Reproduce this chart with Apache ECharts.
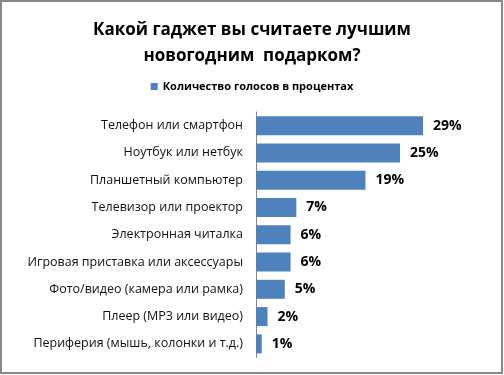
<!DOCTYPE html>
<html><head><meta charset="utf-8">
<script src="https://cdn.jsdelivr.net/npm/echarts@6/dist/echarts.min.js"></script>
<style>html,body{margin:0;padding:0;background:#fff}#c{width:504px;height:375px}</style>
</head><body><div id="c"></div>
<script>
var categories = ['Телефон или смартфон','Ноутбук или нетбук','Планшетный компьютер','Телевизор или проектор','Электронная читалка','Игровая приставка или аксессуары','Фото/видео (камера или рамка)','Плеер (МР3 или видео)','Периферия (мышь, колонки и т.д.)'];
var values = [29,25,19,7,6,6,5,2,1];
var seriesName = 'Количество голосов в процентах';
var titleText = 'Какой гаджет вы считаете лучшим\nновогодним  подарком?';

var chart = echarts.init(document.getElementById('c'), null, {renderer:'canvas'});
chart.setOption({
  backgroundColor:'#fff',
  animation:false,
  title:{text:titleText,left:'center',top:12,textStyle:{fontFamily:'Open Sans',fontWeight:'bold',fontSize:17,color:'#000',lineHeight:26}},
  legend:{data:[seriesName],top:76,left:'center',itemWidth:7,itemHeight:7,icon:'rect',itemGap:5,
    textStyle:{fontFamily:'Open Sans',fontSize:11,color:'#000',fontWeight:'bold'}},
  graphic:[{type:'rect',shape:{x:1,y:1,width:501,height:372},style:{fill:'none',stroke:'#888',lineWidth:2}}],
  grid:{left:256,top:112,width:201.6,height:245.5,containLabel:false},
  xAxis:{type:'value',min:0,max:35,show:false},
  yAxis:{type:'category',data:categories,inverse:true,
    axisLine:{show:true,lineStyle:{color:'#868686',width:1}},axisTick:{show:false},
    axisLabel:{fontFamily:'Open Sans',fontSize:12.5,color:'#111',margin:13}},
  series:[{name:seriesName,type:'bar',data:values,barWidth:19,itemStyle:{color:'#4F81BD'},
    label:{show:true,position:'right',distance:10,formatter:'{c}%',fontFamily:'Open Sans',fontWeight:'bold',fontSize:14,color:'#000'}}]
});
</script></body></html>
